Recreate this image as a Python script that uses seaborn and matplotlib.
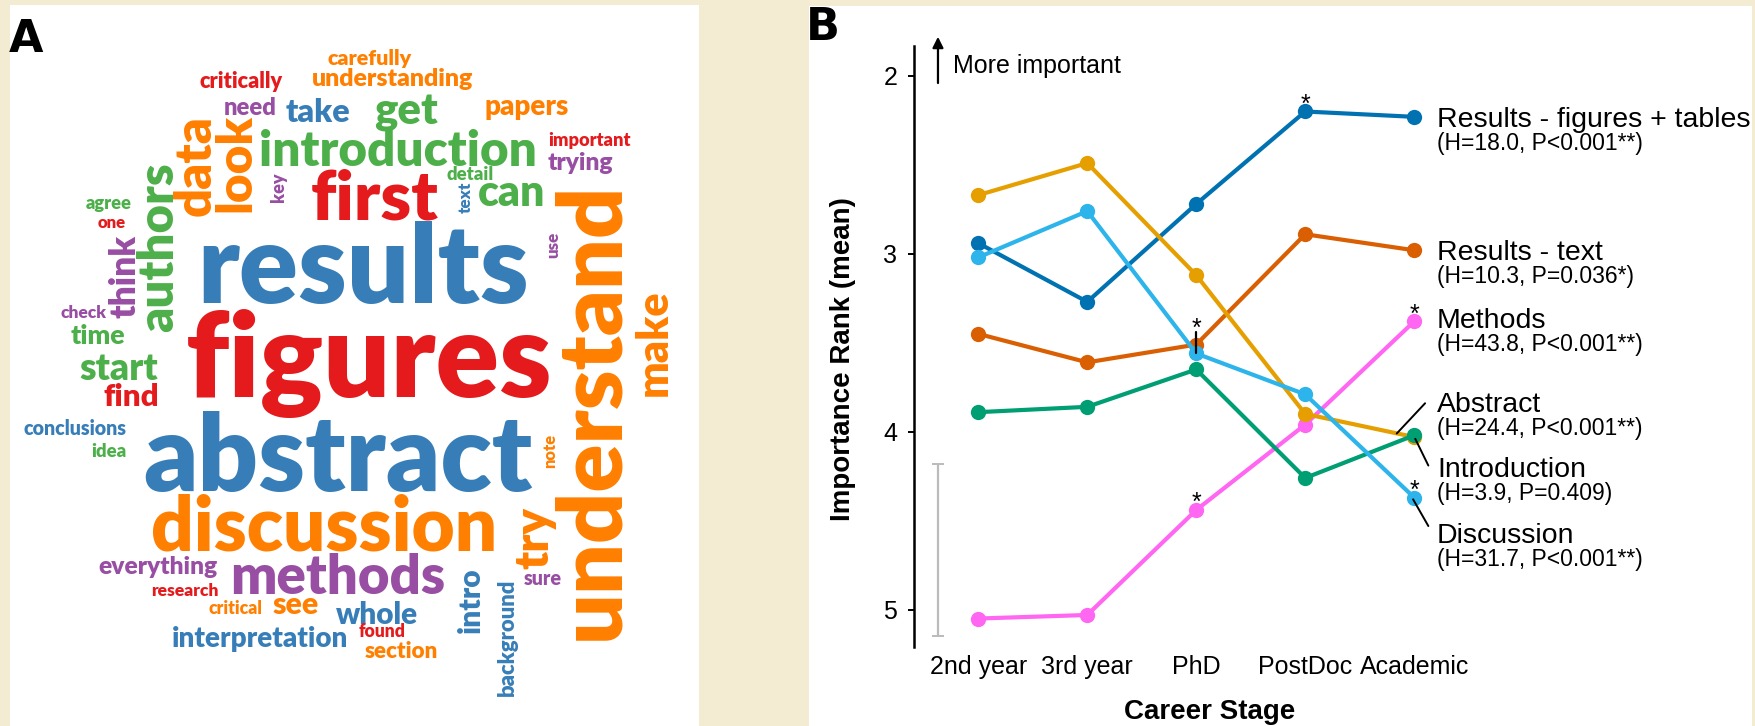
import numpy as np
import pandas as pd
import matplotlib
matplotlib.use("Agg")
import matplotlib.pyplot as plt
from matplotlib.patches import Rectangle
import seaborn as sns

# ---------------- panel B data ----------------
stages = ["2nd year", "3rd year", "PhD", "PostDoc", "Academic"]
sections = ["Results - figures + tables", "Results - text", "Methods",
            "Abstract", "Introduction", "Discussion"]
rank_results_fig = [2.94, 3.27, 2.72, 2.20, 2.23]
rank_results_text = [3.45, 3.61, 3.51, 2.89, 2.98]
rank_methods = [5.05, 5.03, 4.44, 3.96, 3.38]
rank_abstract = [2.67, 2.49, 3.12, 3.90, 4.03]
rank_intro = [3.89, 3.86, 3.65, 4.26, 4.02]
rank_discussion = [3.02, 2.76, 3.56, 3.79, 4.37]
kw_h = [18.0, 10.3, 43.8, 24.4, 3.9, 31.7]
kw_p = ["P<0.001**", "P=0.036*", "P<0.001**", "P<0.001**", "P=0.409", "P<0.001**"]
# stages that differ significantly (post hoc)
sig_points = [("Results - figures + tables", "PostDoc"), ("Discussion", "PhD"),
              ("Methods", "PhD"), ("Methods", "Academic"), ("Discussion", "Academic")]
err_low, err_high = 4.18, 5.15

# ---------------- panel A data (word cloud) ----------------
words = ["results", "figures", "abstract", "understand", "discussion", "introduction",
         "methods", "first", "authors", "interpretation", "understanding", "look",
         "data", "everything", "make", "conclusions", "background", "start", "can",
         "get", "carefully", "critically", "papers", "important", "think", "section",
         "whole", "intro", "take", "try", "research", "trying", "find", "time",
         "need", "critical", "detail", "found", "agree", "check", "see", "sure",
         "idea", "note", "text", "key", "one", "use"]

# layout of the cloud: centre x, centre y (figure pixels), length along text, rotation
word_place = {
    "carefully": (370, 57, 86, 0), "critically": (241, 79, 85, 0),
    "understanding": (393, 77, 165, 0), "need": (250, 106, 54, 0),
    "take": (318, 110, 66, 0), "get": (406, 108, 65, 0),
    "papers": (527, 105, 86, 0), "introduction": (398, 148, 284, 0),
    "important": (590, 139, 84, 0), "trying": (580, 161, 67, 0),
    "data": (192, 165, 103, 90), "look": (232, 163, 100, 90),
    "authors": (155, 247, 173, 90), "think": (122, 276, 85, 90),
    "key": (277, 187, 30, 90), "first": (375, 194, 131, 0),
    "detail": (470, 173, 48, 0), "text": (464, 197, 32, 90),
    "can": (512, 190, 69, 0), "agree": (109, 202, 47, 0),
    "one": (112, 222, 29, 0), "results": (363, 262, 339, 0),
    "use": (552, 245, 27, 90), "understand": (585, 411, 468, 90),
    "check": (84, 311, 47, 0), "time": (98, 334, 56, 0),
    "figures": (369, 353, 375, 0), "start": (119, 366, 80, 0),
    "make": (650, 343, 109, 90), "find": (131, 395, 57, 0),
    "conclusions": (75, 427, 106, 0), "idea": (109, 450, 36, 0),
    "abstract": (338, 451, 398, 0), "note": (549, 451, 35, 90),
    "discussion": (324, 522, 355, 0), "try": (530, 538, 63, 90),
    "everything": (158, 565, 122, 0), "methods": (338, 574, 220, 0),
    "research": (185, 589, 69, 0), "critical": (235, 607, 55, 0),
    "see": (296, 603, 47, 0), "whole": (377, 612, 84, 0),
    "intro": (468, 600, 67, 90), "background": (505, 637, 120, 90),
    "sure": (543, 577, 39, 0), "interpretation": (260, 636, 180, 0),
    "found": (382, 630, 48, 0), "section": (401, 650, 75, 0),
}
set1 = sns.color_palette("Set1")
cloud_cols = {"red": set1[0], "blue": set1[1], "green": set1[2],
              "purple": set1[3], "orange": set1[4]}
word_colour = {
    "carefully": "orange", "critically": "red", "understanding": "orange", "need": "purple",
    "take": "blue", "get": "green", "papers": "orange", "introduction": "green",
    "important": "red", "trying": "purple", "data": "orange", "look": "orange",
    "authors": "green", "think": "purple", "key": "purple", "first": "red",
    "detail": "green", "text": "blue", "can": "green", "agree": "green", "one": "red",
    "results": "blue", "use": "purple", "understand": "orange", "check": "purple",
    "time": "green", "figures": "red", "start": "green", "make": "orange", "find": "red",
    "conclusions": "blue", "idea": "green", "abstract": "blue", "note": "orange",
    "discussion": "orange", "try": "orange", "everything": "purple", "methods": "purple",
    "research": "red", "critical": "orange", "see": "orange", "whole": "blue",
    "intro": "blue", "background": "blue", "sure": "purple", "interpretation": "blue",
    "found": "red", "section": "orange",
}

sec_colours = {"Results - figures + tables": "#0072B2", "Results - text": "#D95F02",
               "Methods": "#FF66F2", "Abstract": "#E69F00",
               "Introduction": "#009E73", "Discussion": "#2DB4EA"}

sns.set_style("white")
plt.rcParams['font.family'] = ['Liberation Sans', 'DejaVu Sans']
plt.rcParams['text.color'] = 'black'
plt.rcParams['axes.labelcolor'] = 'black'
plt.rcParams['xtick.color'] = 'black'
plt.rcParams['ytick.color'] = 'black'

W, H = 1756, 726
fig = plt.figure(figsize=(W / 100, H / 100), dpi=100)
fig.patch.set_facecolor("#F3ECD2")

# background axes in pixel coordinates, holds both white panels and the cloud
bg = fig.add_axes([0, 0, 1, 1])
bg.set_xlim(0, W)
bg.set_ylim(H, 0)
bg.axis("off")
bg.add_patch(Rectangle((10, 5), 689, 730, facecolor="white", edgecolor="none"))
bg.add_patch(Rectangle((809, 6), 943, 730, facecolor="white", edgecolor="none"))
bg.text(9, 52, "A", fontsize=32, fontweight="bold", family="DejaVu Sans", va="baseline")
bg.text(806, 40, "B", fontsize=32, fontweight="bold", family="DejaVu Sans", va="baseline")

# word cloud: size each word so its length matches the layout
renderer = fig.canvas.get_renderer()
for w in words:
    cx, cy, length, rot = word_place[w]
    t = bg.text(cx, cy, w, fontsize=20, family=["Lato", "DejaVu Sans"], fontweight="heavy",
                color=cloud_cols[word_colour[w]], ha="center", va="center_baseline",
                rotation_mode="anchor")
    bb = t.get_window_extent(renderer)
    t.set_fontsize(20 * 0.98 * length / bb.width)
    t.set_rotation(rot)

# ---------------- panel B ----------------
all_ranks = [rank_results_fig, rank_results_text, rank_methods,
             rank_abstract, rank_intro, rank_discussion]
rows = []
for sec, vals in zip(sections, all_ranks):
    for i, (st, v) in enumerate(zip(stages, vals)):
        rows.append({"section": sec, "stage": st, "pos": i, "rank": v})
df = pd.DataFrame(rows)

ax = fig.add_axes([914 / W, 1 - 647 / H, (1752 - 914) / W, (647 - 6) / H])
ax.set_facecolor("none")
sns.lineplot(data=df, x="pos", y="rank", hue="section", hue_order=sections,
             palette=sec_colours, marker="o", markersize=11, markeredgewidth=0,
             linewidth=3, errorbar=None, legend=False, ax=ax)

ax.set_xlim(-0.59, 7.10)
ax.set_ylim(5.21, 1.607)
for s in ["top", "right", "bottom"]:
    ax.spines[s].set_visible(False)
ax.spines["left"].set_bounds(1.83, 5.21)
ax.spines["left"].set_linewidth(1.8)
ax.spines["left"].set_color("black")

ax.set_yticks([2, 3, 4, 5])
ax.set_yticklabels(["2", "3", "4", "5"])
ax.tick_params(axis="y", left=True, length=4, width=1.4, pad=8, labelsize=18)
ax.set_xticks(range(len(stages)))
ax.set_xticklabels(stages)
ax.tick_params(axis="x", bottom=True, length=0, pad=6, labelsize=18)
ax.set_xlabel("Career Stage", fontsize=20, fontweight="bold", va="center")
ax.xaxis.set_label_coords(0.353, -0.101)
ax.set_ylabel("Importance Rank (mean)", fontsize=20, fontweight="bold", va="center")
ax.yaxis.set_label_coords(-0.085, 0.449)

# "more important" arrow
ax.annotate("", xy=(-0.37, 1.78), xytext=(-0.37, 2.04),
            arrowprops=dict(arrowstyle="-|>", lw=1.6, color="black", mutation_scale=16,
                            shrinkA=0, shrinkB=0))
ax.text(-0.23, 1.983, "More important", fontsize=18, va="baseline", ha="left")

# representative error bar
ax.errorbar(-0.37, (err_low + err_high) / 2, yerr=(err_high - err_low) / 2,
            color="#BBBBBB", lw=1.6, capsize=4.5, capthick=1.4)

# significance stars
rank_of = dict(zip(sections, all_ranks))
for sec, st in sig_points:
    i = stages.index(st)
    v = rank_of[sec][i]
    if sec == "Discussion" and st == "PhD":
        ax.plot([i, i], [v - 0.12, v], color="black", lw=1.6)
        ax.text(i, v - 0.10, "*", fontsize=18, ha="center", va="baseline")
    else:
        ax.text(i, v, "*", fontsize=18, ha="center", va="baseline")

# right-hand labels
label_base = [2.287, 3.034, 3.416, 3.888, 4.253, 4.624]
for sec, h, p, yb in zip(sections, kw_h, kw_p, label_base):
    ax.text(4.21, yb, sec, fontsize=20.5, ha="left", va="baseline")
    ax.text(4.21, yb + 0.13, f"(H={h}, {p})", fontsize=16.5, ha="left", va="baseline")

# leader lines from labels to the crowded end points
leaders = [((4.10, 3.84), (3.84, 4.01)),
           ((4.01, 4.04), (4.13, 4.19)),
           ((3.99, 4.38), (4.13, 4.53))]
for (x0, y0), (x1, y1) in leaders:
    ax.plot([x0, x1], [y0, y1], color="black", lw=1.4)

fig.savefig("out.png", dpi=100, facecolor=fig.get_facecolor())
